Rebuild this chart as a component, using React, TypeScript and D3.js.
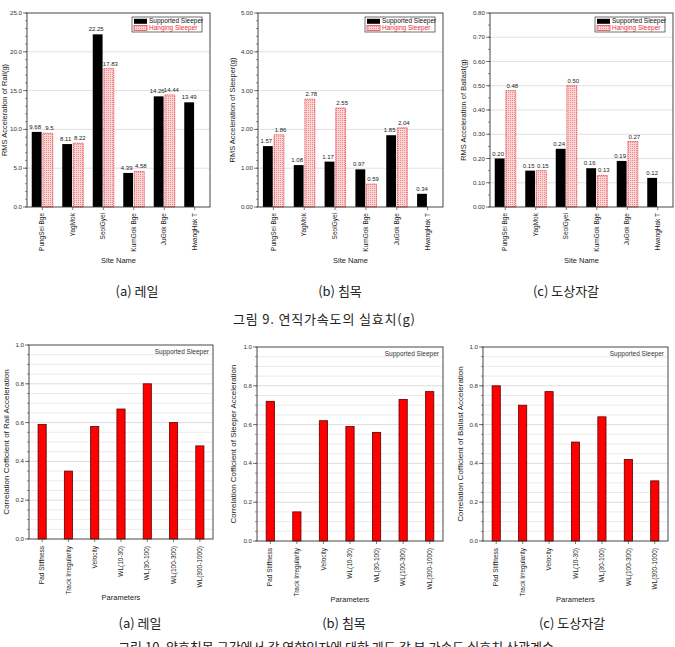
import React from 'react';
import * as d3 from 'd3';

const sites = ['PungSei Bge', 'YagMok', 'SeolGyei', 'KumGok Bge', 'JuGok Bge', 'HwangHak T'];
const railSupported = [9.68, 8.11, 22.25, 4.39, 14.26, 13.49];
const railHanging = [9.5, 8.22, 17.83, 4.58, 14.44, null];
const sleeperSupported = [1.57, 1.08, 1.17, 0.97, 1.85, 0.34];
const sleeperHanging = [1.86, 2.78, 2.55, 0.59, 2.04, null];
const ballastSupported = [0.2, 0.15, 0.24, 0.16, 0.19, 0.12];
const ballastHanging = [0.48, 0.15, 0.5, 0.13, 0.27, null];

const params = ['Pad Stiffness', 'Track Irregularity', 'Velocity', 'WL(10-30)', 'WL(30-100)', 'WL(100-300)', 'WL(300-1000)'];
const corrRail = [0.59, 0.35, 0.58, 0.67, 0.8, 0.6, 0.48];
const corrSleeper = [0.72, 0.15, 0.62, 0.59, 0.56, 0.73, 0.77];
const corrBallast = [0.8, 0.7, 0.77, 0.51, 0.64, 0.42, 0.31];

const font = '"Liberation Sans", Arial, sans-serif';
const krFont = '"Noto Sans CJK KR", sans-serif';
const gridColor = '#d9d9d9';
const tickColor = '#444';

type TopProps = {
  x0: number; x1: number; y0: number; y1: number;
  max: number; major: number; minor: number; fmt: (v: number) => string;
  supported: number[]; hanging: (number | null)[]; label: (v: number) => string;
  title: string; titleX: number;
};

function TopChart(p: TopProps) {
  const x = d3.scaleBand<string>().domain(sites).range([p.x0, p.x1]).padding(0);
  const sub = d3.scaleBand<string>().domain(['s', 'h']).range([-10.5, 10.5]).paddingInner(0.12);
  const y = d3.scaleLinear().domain([0, p.max]).range([p.y1, p.y0]);
  const majors = d3.range(0, p.max + p.major / 2, p.major);
  const minors = d3.range(0, p.max + p.minor / 2, p.minor);
  const lw = 70;
  const lx = p.x1 - lw - 8;
  const ly = p.y0 + 4;
  return (
    <g fontFamily={font}>
      {majors.slice(1, -1).map((v, i) => (
        <line key={'g' + i} x1={p.x0} x2={p.x1} y1={y(v)} y2={y(v)} stroke={gridColor} strokeWidth={0.8} />
      ))}
      {sites.map((s, i) => {
        const cx = x(s)! + x.bandwidth() / 2;
        const sv = p.supported[i];
        const hv = p.hanging[i];
        return (
          <g key={s}>
            <rect x={cx + sub('s')!} y={y(sv)} width={sub.bandwidth()} height={p.y1 - y(sv)} fill="#000" />
            <text x={cx + sub('s')! + sub.bandwidth() / 2 - (hv != null ? 1.5 : 0)} y={y(sv) - 3} fontSize={6} textAnchor="middle" fill="#222">{p.label(sv)}</text>
            {hv != null && (
              <g>
                <rect x={cx + sub('h')!} y={y(hv)} width={sub.bandwidth()} height={p.y1 - y(hv)} fill="url(#hatch)" stroke="#e8303a" strokeWidth={0.8} strokeDasharray="1.2,0.6" />
                <text x={cx + sub('h')! + sub.bandwidth() / 2 + 1.5} y={y(hv) - 3} fontSize={6} textAnchor="middle" fill="#222">{p.label(hv)}</text>
              </g>
            )}
            <line x1={cx} x2={cx} y1={p.y1} y2={p.y1 + 3} stroke={tickColor} strokeWidth={0.7} />
            <text transform={`translate(${cx + 2.2},${p.y1 + 6}) rotate(-90)`} textAnchor="end" fontSize={6.5} fill="#222">{s}</text>
          </g>
        );
      })}
      <rect x={p.x0} y={p.y0} width={p.x1 - p.x0} height={p.y1 - p.y0} fill="none" stroke="#333" strokeWidth={0.9} />
      {minors.map((v, i) => (
        <line key={'m' + i} x1={p.x0 - 2} x2={p.x0} y1={y(v)} y2={y(v)} stroke={tickColor} strokeWidth={0.6} />
      ))}
      {majors.map((v, i) => (
        <g key={'t' + i}>
          <line x1={p.x0 - 4} x2={p.x0} y1={y(v)} y2={y(v)} stroke={tickColor} strokeWidth={0.7} />
          <text x={p.x0 - 5} y={y(v) + 2} fontSize={6.2} textAnchor="end" fill="#333">{p.fmt(v)}</text>
        </g>
      ))}
      <text transform={`translate(${p.titleX},${(p.y0 + p.y1) / 2}) rotate(-90)`} textAnchor="middle" fontSize={7.5} fill="#222">{p.title}</text>
      <text x={(p.x0 + p.x1) / 2} y={p.y1 + 56} textAnchor="middle" fontSize={7.5} fill="#222">Site Name</text>
      <rect x={lx} y={ly} width={lw} height={15} fill="#fff" stroke="#333" strokeWidth={0.7} />
      <rect x={lx + 2} y={ly + 1.8} width={13} height={5} fill="#000" />
      <text x={lx + 17} y={ly + 6.4} fontSize={6.5} fill="#111">Supported Sleeper</text>
      <rect x={lx + 2} y={ly + 8.4} width={13} height={5} fill="url(#hatch)" stroke="#e8303a" strokeWidth={0.7} />
      <text x={lx + 17} y={ly + 13.2} fontSize={6.5} fill="#e8303a">Hanging Sleeper</text>
    </g>
  );
}

type BottomProps = {
  x0: number; x1: number; y0: number; y1: number;
  values: number[]; title: string; titleX: number;
};

function BottomChart(p: BottomProps) {
  const x = d3.scaleBand<string>().domain(params).range([p.x0, p.x1]).padding(0);
  const y = d3.scaleLinear().domain([0, 1]).range([p.y1, p.y0]);
  const bw = x.bandwidth() * 0.31;
  const grid = d3.range(1, 20).map((k) => k * 0.05);
  const majors = d3.range(0, 6).map((k) => k * 0.2);
  const minors = d3.range(0, 21).map((k) => k * 0.05);
  return (
    <g fontFamily={font}>
      {grid.map((v, i) => (
        <line key={'g' + i} x1={p.x0} x2={p.x1} y1={y(v)} y2={y(v)} stroke={(i + 1) % 4 === 0 ? '#cfcfcf' : '#e2e2e2'} strokeWidth={0.7} />
      ))}
      {params.map((s, i) => {
        const cx = x(s)! + x.bandwidth() / 2;
        const v = p.values[i];
        return (
          <g key={s}>
            <rect x={cx - bw / 2} y={y(v)} width={bw} height={p.y1 - y(v)} fill="#ff0000" stroke="#5a0000" strokeWidth={0.8} />
            <line x1={cx} x2={cx} y1={p.y1} y2={p.y1 + 3} stroke={tickColor} strokeWidth={0.7} />
            <text transform={`translate(${cx + 2.2},${p.y1 + 7}) rotate(-90)`} textAnchor="end" fontSize={6.5} fill="#222">{s}</text>
          </g>
        );
      })}
      <rect x={p.x0} y={p.y0} width={p.x1 - p.x0} height={p.y1 - p.y0} fill="none" stroke="#333" strokeWidth={0.9} />
      {minors.map((v, i) => (
        <line key={'m' + i} x1={p.x0 - 2} x2={p.x0} y1={y(v)} y2={y(v)} stroke={tickColor} strokeWidth={0.6} />
      ))}
      {majors.map((v, i) => (
        <g key={'t' + i}>
          <line x1={p.x0 - 4} x2={p.x0} y1={y(v)} y2={y(v)} stroke={tickColor} strokeWidth={0.7} />
          <text x={p.x0 - 5} y={y(v) + 2} fontSize={6.2} textAnchor="end" fill="#333">{d3.format('.1f')(v)}</text>
        </g>
      ))}
      <text x={p.x1 - 4} y={p.y0 + 9} textAnchor="end" fontSize={6.5} fill="#333">Supported Sleeper</text>
      <text transform={`translate(${p.titleX},${(p.y0 + p.y1) / 2}) rotate(-90)`} textAnchor="middle" fontSize={8} fill="#222">{p.title}</text>
      <text x={(p.x0 + p.x1) / 2} y={p.y1 + 61} textAnchor="middle" fontSize={7.5} fill="#222">Parameters</text>
    </g>
  );
}

export default function App() {
  const f1 = d3.format('.1f');
  const f2 = d3.format('.2f');
  return (
    <svg width={675} height={647} style={{ position: 'absolute', left: 0, top: 0, background: '#fff' }}>
      <defs>
        <pattern id="hatch" width={2} height={2} patternUnits="userSpaceOnUse">
          <rect width={2} height={2} fill="#fbd6d6" />
          <rect width={1} height={1} fill="#f08a8a" />
        </pattern>
      </defs>
      <rect width={675} height={647} fill="#fff" />
      <TopChart x0={27} x1={210} y0={13} y1={207} max={25} major={5} minor={1} fmt={f1}
        supported={railSupported} hanging={railHanging} label={(v) => String(v)}
        title="RMS Acceleration of Rail(g)" titleX={7} />
      <TopChart x0={258} x1={443} y0={13} y1={207} max={5} major={1} minor={0.2} fmt={f2}
        supported={sleeperSupported} hanging={sleeperHanging} label={f2}
        title="RMS Acceleration of Sleeper(g)" titleX={235} />
      <TopChart x0={490} x1={673} y0={13} y1={207} max={0.8} major={0.1} minor={0.05} fmt={f2}
        supported={ballastSupported} hanging={ballastHanging} label={f2}
        title="RMS Acceleration of Ballast(g)" titleX={466} />

      <g fontFamily={krFont} fill="#222">
        <text x={137} y={296} textAnchor="middle" fontSize={13}>(a) 레일</text>
        <text x={340} y={296} textAnchor="middle" fontSize={13}>(b) 침목</text>
        <text x={566} y={296} textAnchor="middle" fontSize={13}>(c) 도상자갈</text>
        <text x={233} y={324} fontSize={13} textLength={182} lengthAdjust="spacing">그림 9. 연직가속도의 실효치(g)</text>
      </g>

      <BottomChart x0={29} x1={213} y0={345} y1={539} values={corrRail}
        title="Correlation Cofficient of Rail Acceleration" titleX={9} />
      <BottomChart x0={257} x1={443} y0={347} y1={541} values={corrSleeper}
        title="Correlation Cofficient of Sleeper Acceleration" titleX={236} />
      <BottomChart x0={483} x1={668} y0={347} y1={541} values={corrBallast}
        title="Correlation Cofficient of Ballast Acceleration" titleX={463} />

      <g fontFamily={krFont} fill="#222">
        <text x={140} y={628} textAnchor="middle" fontSize={13}>(a) 레일</text>
        <text x={344} y={628} textAnchor="middle" fontSize={13}>(b) 침목</text>
        <text x={572} y={628} textAnchor="middle" fontSize={13}>(c) 도상자갈</text>
        <text x={336} y={652} textAnchor="middle" fontSize={13}>그림 10. 양호침목 구간에서 각 영향인자에 대한 궤도 각 부 가속도 실효치 상관계수</text>
      </g>
    </svg>
  );
}
